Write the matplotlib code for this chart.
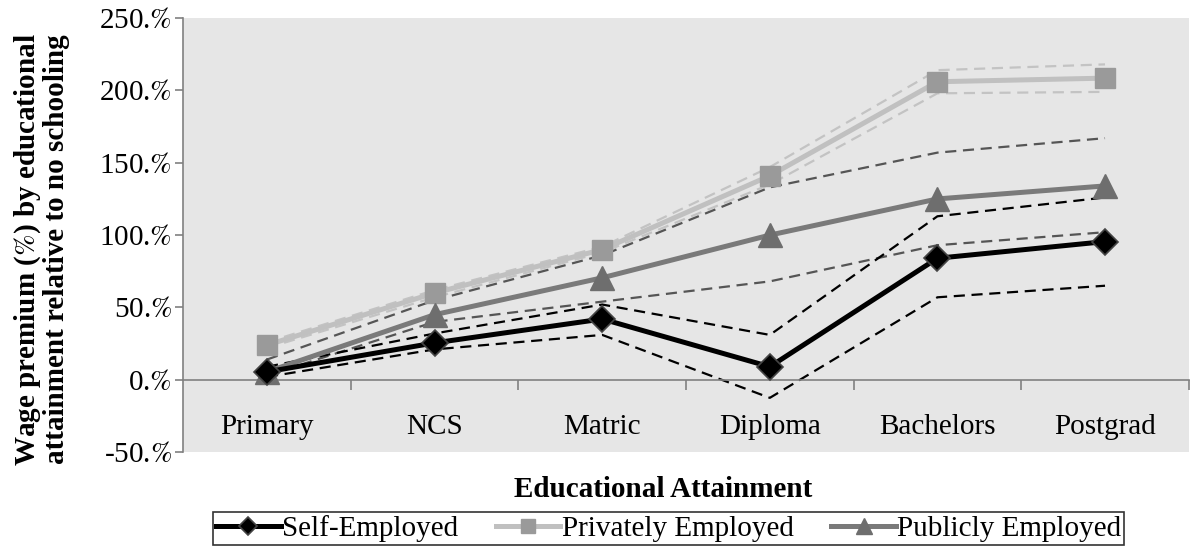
import numpy as np
import matplotlib.pyplot as plt
from matplotlib.ticker import FuncFormatter

plt.rcParams['font.family'] = ['Liberation Serif', 'DejaVu Serif']
plt.rcParams['mathtext.fontset'] = 'stix'

categories = ['Primary', 'NCS', 'Matric', 'Diploma', 'Bachelors', 'Postgrad']

self_emp = [5.5, 25.5, 42, 9, 84, 95.5]
self_hi = [9, 32, 52, 31, 113, 126]
self_lo = [2, 21, 31, -12.5, 57, 65]

private_emp = [24, 60, 90, 141, 206, 208.5]
private_hi = [26, 62, 92, 147, 214, 218]
private_lo = [22, 57, 88, 135, 198, 199]

public_emp = [5.5, 45, 70.5, 100, 125, 134]
public_hi = [14, 55, 86, 133, 157, 167]
public_lo = [3, 40, 54, 68, 93, 102]

fig = plt.figure(figsize=(11.9, 5.48), dpi=100)
ax = fig.add_axes([0.154, 0.175, 0.845, 0.792])
ax.set_facecolor('#e6e6e6')

x = np.arange(len(categories))

# confidence bands (dashed)
ax.plot(x, private_hi, color='#c3c3c3', lw=1.6, ls=(0, (5, 3)), zorder=2)
ax.plot(x, private_lo, color='#c3c3c3', lw=1.6, ls=(0, (5, 3)), zorder=2)
ax.plot(x, public_hi, color='#555555', lw=1.6, ls=(0, (5, 3)), zorder=2)
ax.plot(x, public_lo, color='#555555', lw=1.6, ls=(0, (5, 3)), zorder=2)
ax.plot(x, self_hi, color='black', lw=1.6, ls=(0, (5, 3)), zorder=2)
ax.plot(x, self_lo, color='black', lw=1.6, ls=(0, (5, 3)), zorder=2)

# main series
ax.plot(x, self_emp, color='black', lw=3.6, marker='D', ms=13,
        mfc='black', mec='#444444', mew=1.2, label='Self-Employed', zorder=5)
ax.plot(x, private_emp, color='#c0c0c0', lw=3.6, marker='s', ms=15,
        mfc='#9a9a9a', mec='#9a9a9a', label='Privately Employed', zorder=4)
ax.plot(x, public_emp, color='#7a7a7a', lw=3.6, marker='^', ms=17,
        mfc='#6e6e6e', mec='#6e6e6e', label='Publicly Employed', zorder=4)

ax.set_xlim(-0.5, len(categories) - 0.5)
ax.set_ylim(-50, 250)
ax.set_yticks(np.arange(-50, 251, 50))
ax.yaxis.set_major_formatter(FuncFormatter(lambda v, p: '%d.$\\mathit{\\%%}$' % v))
ax.tick_params(axis='y', labelsize=21, direction='out', length=6, color='#808080', width=1.2, pad=2)

ax.set_xticks(x)
ax.set_xticklabels(categories)
ax.set_xticks(np.arange(0.5, len(categories), 1), minor=True)
ax.tick_params(axis='x', which='major', length=0, pad=25, labelsize=21)
ax.tick_params(axis='x', which='minor', direction='out', length=7, color='#808080', width=1.2)

for s in ['top', 'right']:
    ax.spines[s].set_visible(False)
ax.spines['left'].set_color('#808080')
ax.spines['left'].set_linewidth(1.2)
ax.spines['bottom'].set_position(('data', 0))
ax.spines['bottom'].set_color('#808080')
ax.spines['bottom'].set_linewidth(1.2)

fig.text(0.035, 0.545, 'Wage premium ($\\mathbf{\\mathit{\\%}}$) by educational\nattainment relative to no schooling',
         rotation=90, ha='center', va='center', fontsize=21, fontweight='bold', linespacing=1.0)
fig.text(0.557, 0.106, 'Educational Attainment', ha='center', va='center',
         fontsize=21, fontweight='bold')

leg = fig.legend(loc='center', bbox_to_anchor=(0.562, 0.036), ncol=3, fontsize=21,
                 frameon=True, fancybox=False, edgecolor='black', handlelength=2.2,
                 markerscale=0.7, columnspacing=1.3, handletextpad=0.05,
                 borderpad=0.1, borderaxespad=0)
leg.get_frame().set_linewidth(1.2)

fig.savefig('out.png', dpi=100)
